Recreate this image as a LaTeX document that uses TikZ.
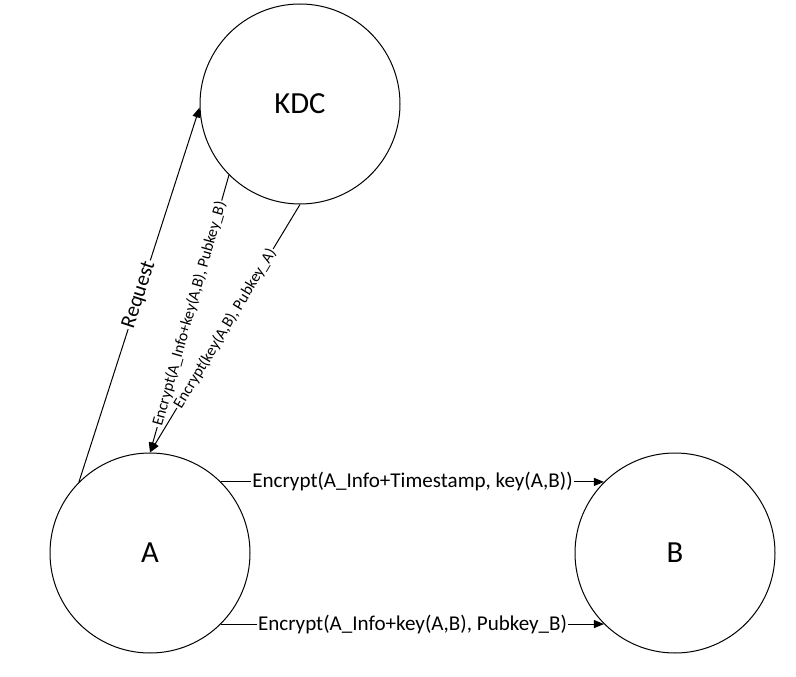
\documentclass[tikz,border=0pt]{standalone}
\usepackage{fontspec}
\setmainfont{Carlito}
\usetikzlibrary{arrows.meta,positioning}

\begin{document}
\begin{tikzpicture}[x=0.75pt,y=-0.75pt]
  % Styles
  \tikzset{
    party/.style={draw, circle, line width=0.75pt, minimum size=150pt, inner sep=0pt, font=\fontsize{23}{27}\selectfont},
    msg/.style={-{Triangle[length=7.5pt,width=6pt]}, line width=0.75pt},
    lbl/.style={fill=white, inner sep=1pt, font=\fontsize{15.8}{19}\selectfont},
    smalllbl/.style={fill=white, inner sep=1pt, font=\fontsize{11.9}{14}\selectfont, sloped},
  }
  \useasboundingbox (0,0) rectangle (796,677);

  % Parties
  \node[party] (kdc) at (300,104) {KDC};
  \node[party] (a)   at (150,553) {A};
  \node[party] (b)   at (675,553) {B};

  % Links
  \draw[msg] (a.135) -- node[lbl, sloped] {Request} (kdc.182);
  \draw[msg] (kdc.225) -- node[smalllbl] {Encrypt(A\_Info+key(A,B), Pubkey\_B)} (a.north);
  \draw[msg] (kdc.south) -- node[smalllbl] {Encrypt(key(A,B), Pubkey\_A)} (a.north);
  \draw[msg] (a.45) -- node[lbl] {Encrypt(A\_Info+Timestamp, key(A,B))} (b.135);
  \draw[msg] (a.-45) -- node[lbl] {Encrypt(A\_Info+key(A,B), Pubkey\_B)} (b.-135);
\end{tikzpicture}
\end{document}
